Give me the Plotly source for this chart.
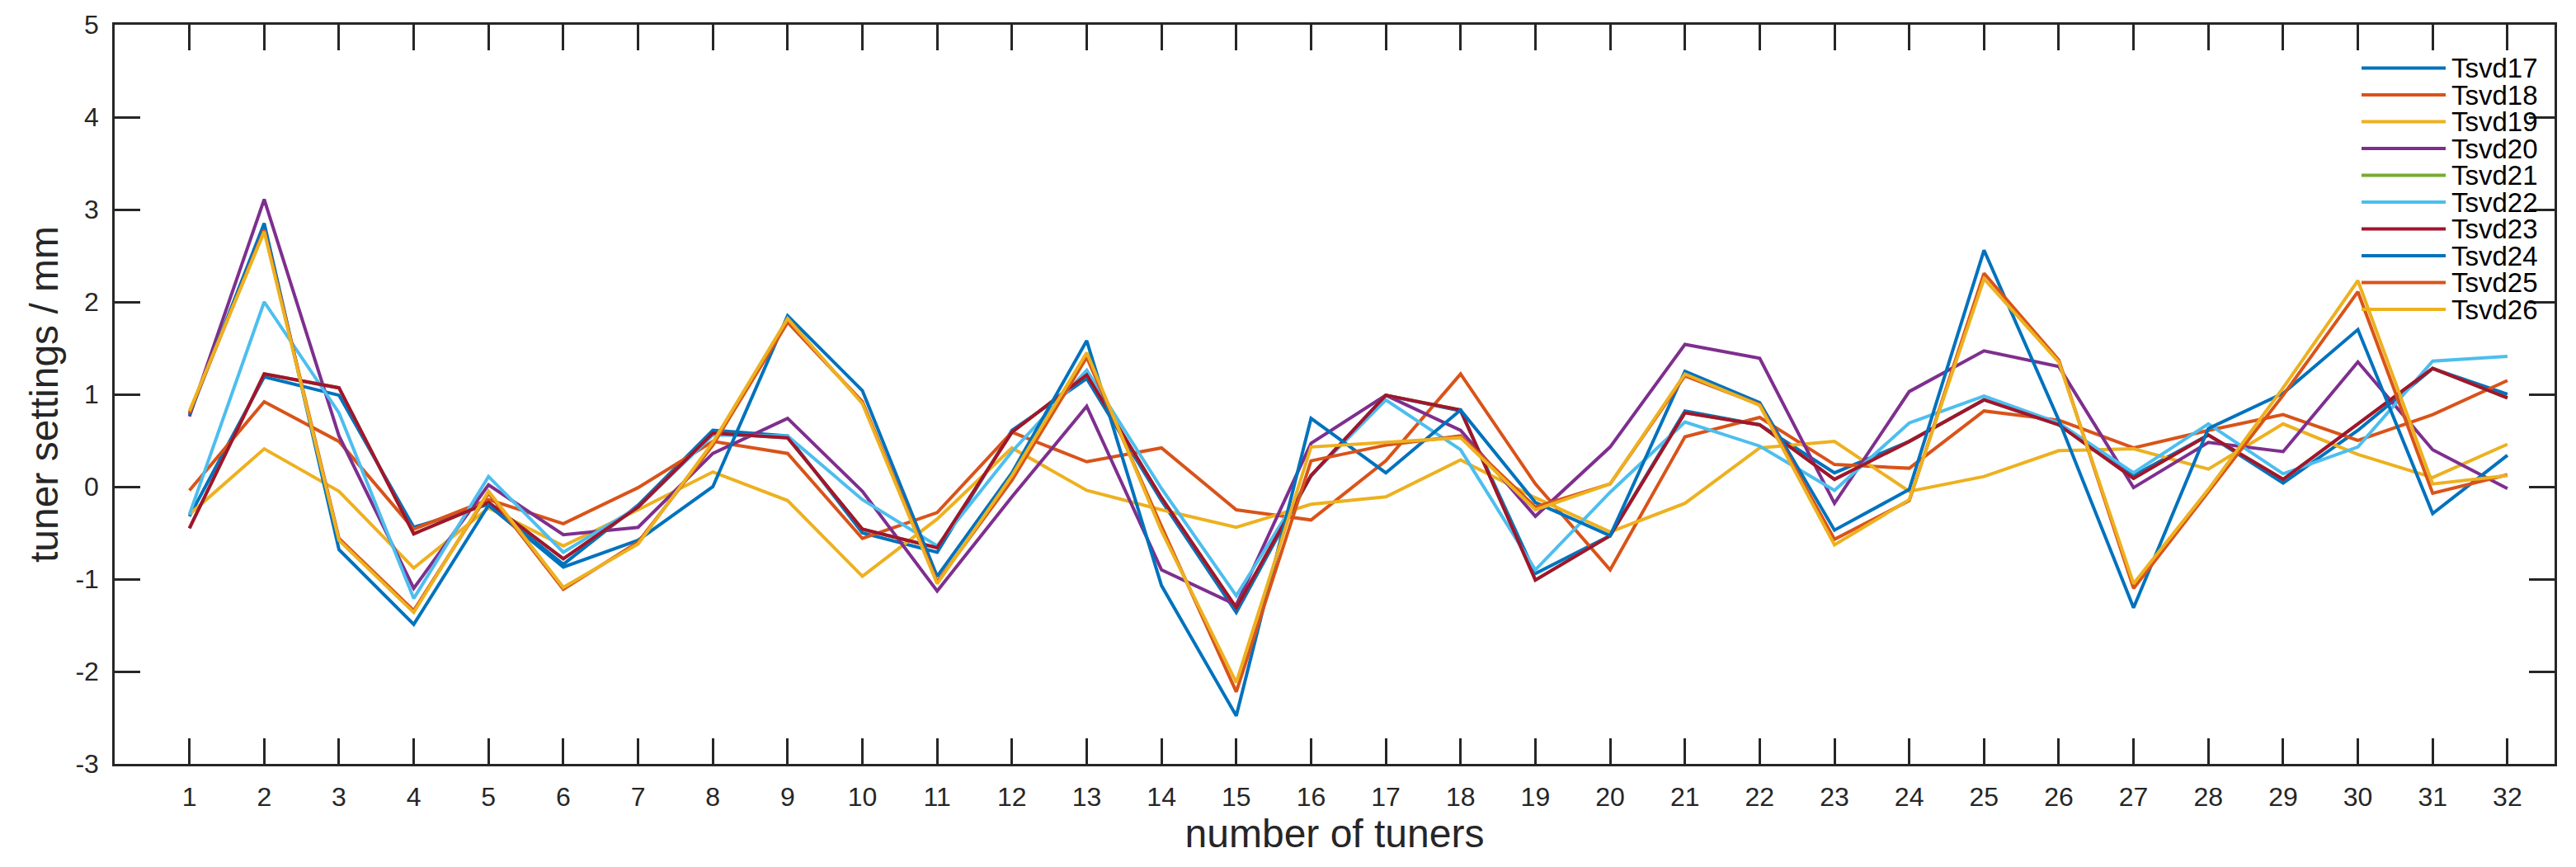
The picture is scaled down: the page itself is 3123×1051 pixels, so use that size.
import plotly.graph_objects as go

# Tuner index (x axis)
tuners = list(range(1, 33))

# Tuner settings in mm for each truncated-SVD solution
tsvd17 = [-0.32, 1.19, 0.99, -0.44, -0.19, -0.84, -0.20, 0.61, 0.55, -0.50, -0.71, 0.61, 1.17, -0.15, -1.36, 0.12,
          0.99, 0.82, -0.94, -0.53, 0.82, 0.67, 0.15, 0.49, 0.94, 0.67, 0.12, 0.56, 0.04, 0.61, 1.28, 1.00]
tsvd18 = [-0.04, 0.92, 0.49, -0.46, -0.14, -0.40, -0.01, 0.49, 0.36, -0.56, -0.28, 0.59, 0.27, 0.42, -0.25, -0.36,
          0.28, 1.22, 0.03, -0.90, 0.54, 0.75, 0.24, 0.20, 0.82, 0.72, 0.42, 0.61, 0.78, 0.50, 0.78, 1.15]
tsvd19 = [-0.30, 0.41, -0.05, -0.88, -0.23, -0.64, -0.25, 0.16, -0.15, -0.97, -0.35, 0.42, -0.04, -0.25, -0.44, -0.19,
          -0.11, 0.29, -0.12, -0.49, -0.18, 0.42, 0.49, -0.05, 0.11, 0.39, 0.41, 0.19, 0.68, 0.35, 0.10, 0.46]
tsvd20 = [0.76, 3.11, 0.55, -1.10, 0.02, -0.52, -0.44, 0.36, 0.74, -0.05, -1.13, -0.11, 0.87, -0.90, -1.28, 0.47,
          0.99, 0.61, -0.32, 0.43, 1.54, 1.39, -0.18, 1.03, 1.47, 1.30, -0.01, 0.48, 0.38, 1.35, 0.40, -0.02]
tsvd21 = [-0.45, 1.22, 1.07, -0.51, -0.17, -0.78, -0.22, 0.58, 0.53, -0.46, -0.66, 0.59, 1.21, -0.12, -1.31, 0.12,
          0.99, 0.83, -1.01, -0.53, 0.80, 0.67, 0.08, 0.49, 0.94, 0.67, 0.09, 0.56, 0.08, 0.68, 1.28, 0.96]
tsvd22 = [-0.30, 2.00, 0.80, -1.21, 0.11, -0.71, -0.22, 0.56, 0.55, -0.14, -0.64, 0.38, 1.26, -0.02, -1.18, 0.12,
          0.94, 0.40, -0.90, -0.06, 0.70, 0.44, -0.04, 0.69, 0.98, 0.69, 0.15, 0.68, 0.14, 0.43, 1.36, 1.41]
tsvd23 = [-0.45, 1.22, 1.07, -0.51, -0.17, -0.78, -0.22, 0.58, 0.53, -0.46, -0.66, 0.59, 1.21, -0.12, -1.31, 0.12,
          0.99, 0.83, -1.01, -0.53, 0.80, 0.67, 0.08, 0.49, 0.94, 0.67, 0.09, 0.56, 0.08, 0.68, 1.28, 0.96]
tsvd24 = [0.78, 2.85, -0.68, -1.49, -0.20, -0.87, -0.58, 0.00, 1.85, 1.04, -0.97, 0.15, 1.58, -1.07, -2.48, 0.74,
          0.15, 0.83, -0.17, -0.53, 1.25, 0.91, -0.47, -0.03, 2.56, 0.72, -1.31, 0.63, 1.01, 1.70, -0.29, 0.34]
tsvd25 = [0.80, 2.78, -0.56, -1.34, -0.07, -1.11, -0.60, 0.45, 1.78, 0.92, -1.03, 0.07, 1.40, -0.43, -2.22, 0.28,
          0.45, 0.55, -0.22, 0.03, 1.20, 0.89, -0.57, -0.15, 2.31, 1.37, -1.10, -0.05, 0.99, 2.11, -0.07, 0.13]
tsvd26 = [0.82, 2.76, -0.58, -1.36, -0.05, -1.09, -0.62, 0.48, 1.82, 0.90, -1.05, 0.12, 1.45, -0.48, -2.12, 0.43,
          0.48, 0.53, -0.25, 0.03, 1.22, 0.88, -0.63, -0.14, 2.25, 1.35, -1.05, -0.03, 1.07, 2.23, 0.03, 0.12]

series_names = ["Tsvd17", "Tsvd18", "Tsvd19", "Tsvd20", "Tsvd21",
                "Tsvd22", "Tsvd23", "Tsvd24", "Tsvd25", "Tsvd26"]
series_values = [tsvd17, tsvd18, tsvd19, tsvd20, tsvd21,
                 tsvd22, tsvd23, tsvd24, tsvd25, tsvd26]

# Axis tick labels
x_tick_labels = [str(t) for t in tuners]
y_tick_values = [-3, -2, -1, 0, 1, 2, 3, 4, 5]
y_tick_labels = ["-3", "-2", "-1", "0", "1", "2", "3", "4", "5"]

# MATLAB default line colour order
colors = ["#0072BD", "#D95319", "#EDB120", "#7E2F8E", "#77AC30",
          "#4DBEEE", "#A2142F", "#0072BD", "#D95319", "#EDB120"]

FONT = "Liberation Sans, Arial, Helvetica, sans-serif"
AXIS_COLOR = "#262626"
LINE_W = 4

fig = go.Figure()
for name, vals, col in zip(series_names, series_values, colors):
    fig.add_trace(go.Scatter(x=tuners, y=vals, mode="lines", name=name,
                             line=dict(color=col, width=LINE_W),
                             showlegend=False))

# Legend drawn in the upper right of the axes (MATLAB style, no box)
W, H = 3123, 1051
L, R, T, B = 139, 26, 22, 125
pw, ph = W - L - R, H - T - B


def px_to_paper_x(px):
    return (px - L) / pw


def px_to_paper_y(py):
    return 1 - (py - T) / ph


shapes = []
annotations = []
row0, row_step = 75, 32.8
for i, (name, col) in enumerate(zip(series_names, colors)):
    yy = px_to_paper_y(row0 + i * row_step)
    shapes.append(dict(type="line", xref="paper", yref="paper",
                       x0=px_to_paper_x(2863), x1=px_to_paper_x(2965),
                       y0=yy, y1=yy, line=dict(color=col, width=LINE_W)))
    annotations.append(dict(text=name, xref="paper", yref="paper",
                            x=px_to_paper_x(2970), y=yy, xanchor="left", yanchor="middle",
                            showarrow=False, font=dict(family=FONT, size=33, color="#000000")))

axis_common = dict(
    showgrid=False, zeroline=False,
    showline=True, linecolor=AXIS_COLOR, linewidth=2.5, mirror="ticks",
    ticks="inside", ticklen=31, tickwidth=2.5, tickcolor=AXIS_COLOR,
    tickfont=dict(family=FONT, size=32, color=AXIS_COLOR),
)

fig.update_layout(
    width=W, height=H,
    margin=dict(l=L, r=R, t=T, b=B),
    plot_bgcolor="white", paper_bgcolor="white",
    font=dict(family=FONT, color=AXIS_COLOR),
    showlegend=False,
    shapes=shapes,
    annotations=annotations,
    xaxis=dict(range=[0, 32.63], tickmode="array", tickvals=tuners, ticktext=x_tick_labels,
               ticklabelstandoff=10,
               title=dict(text="number of tuners", font=dict(family=FONT, size=48, color=AXIS_COLOR),
                          standoff=4),
               **axis_common),
    yaxis=dict(range=[-3, 5], tickmode="array", tickvals=y_tick_values, ticktext=y_tick_labels,
               ticklabelstandoff=10,
               title=dict(text="tuner settings / mm", font=dict(family=FONT, size=48, color=AXIS_COLOR),
                          standoff=6),
               **axis_common),
)

fig.write_html("out.html")
